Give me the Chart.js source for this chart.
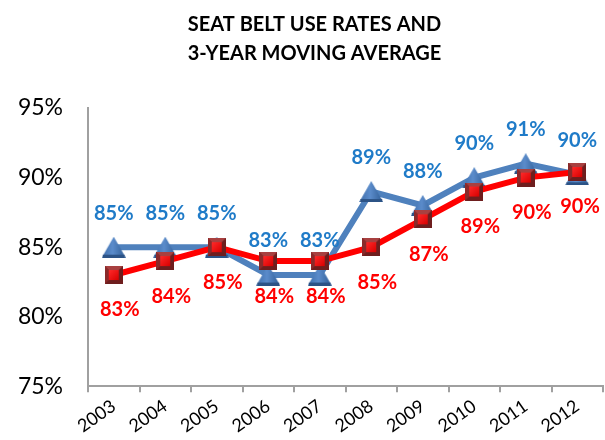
<!DOCTYPE html>
<html>
<head>
<meta charset="utf-8">
<script src="https://cdn.jsdelivr.net/npm/chart.js@4"></script>
<style>
  html, body { margin: 0; padding: 0; background: #fff; overflow: hidden; width: 605px; height: 440px; }
  #wrap { width: 613px; height: 440px; }
</style>
</head>
<body>
<div id="wrap"><canvas id="chart"></canvas></div>
<script>
// Years and rates
const years = ['2003', '2004', '2005', '2006', '2007', '2008', '2009', '2010', '2011', '2012'];
const useRates = [85, 85, 85, 83, 83, 89, 88, 90, 91, 90.2];
const movingAvg = [83, 84, 85, 84, 84, 85, 87, 89, 90, 90.4];
const yTicks = [75, 80, 85, 90, 95];

const BLUE = '#4F81BD';
const BLUE_TEXT = '#1F7BC8';
const RED = '#FF0000';

// Bevelled marker images
function makeTriangle() {
    const c = document.createElement('canvas');
    c.width = 24; c.height = 21;
    const g = c.getContext('2d');
    g.beginPath();
    g.moveTo(12, 0); g.lineTo(24, 21); g.lineTo(0, 21); g.closePath();
    const grad = g.createLinearGradient(0, 0, 24, 0);
    grad.addColorStop(0, '#3E6DAA');
    grad.addColorStop(0.45, '#5B8CCB');
    grad.addColorStop(1, '#2F5C94');
    g.fillStyle = grad;
    g.fill();
    // darker base strip
    g.fillStyle = '#2C5386';
    g.fillRect(1, 18, 22, 3);
    return c;
}

function makeSquare() {
    const c = document.createElement('canvas');
    c.width = 18; c.height = 18;
    const g = c.getContext('2d');
    g.fillStyle = '#6E1E1E';
    g.fillRect(0, 0, 18, 18);
    g.fillStyle = '#A84040';
    g.beginPath(); g.moveTo(0, 0); g.lineTo(18, 0); g.lineTo(14, 4); g.lineTo(4, 4); g.closePath(); g.fill();
    g.fillStyle = '#8A2A2A';
    g.beginPath(); g.moveTo(0, 0); g.lineTo(4, 4); g.lineTo(4, 14); g.lineTo(0, 18); g.closePath(); g.fill();
    const grad = g.createLinearGradient(4, 4, 14, 14);
    grad.addColorStop(0, '#FF2A2A');
    grad.addColorStop(1, '#D80000');
    g.fillStyle = grad;
    g.fillRect(4, 4, 10, 10);
    return c;
}

// Value labels: blue above the points, red below
const valueLabels = {
    id: 'valueLabels',
    afterDatasetsDraw(chart) {
        const ctx = chart.ctx;
        ctx.save();
        ctx.font = 'bold 20px Lato';
        ctx.textAlign = 'center';
        ctx.textBaseline = 'middle';
        chart.data.datasets.forEach((ds, i) => {
            const meta = chart.getDatasetMeta(i);
            ctx.fillStyle = ds.labelColor;
            meta.data.forEach((pt, j) => {
                const text = Math.round(ds.data[j]) + '%';
                let x = pt.x + ds.labelDx;
                x = Math.min(x, chart.chartArea.right - 23);
                ctx.fillText(text, x, pt.y + ds.labelDy);
            });
        });
        ctx.restore();
    }
};

// Nudge the title a little to the right
const titleShift = {
    id: 'titleShift',
    afterLayout(chart) {
        if (chart.titleBlock) chart.titleBlock.left += 16;
    }
};

let chart = new Chart(document.getElementById('chart'), {
    type: 'line',
    data: {
        labels: years,
        datasets: [
            {
                label: 'Seat belt use rate',
                data: useRates,
                borderColor: BLUE,
                backgroundColor: BLUE,
                borderWidth: 6,
                pointStyle: makeTriangle(),
                tension: 0,
                order: 2,
                labelColor: BLUE_TEXT,
                labelDx: 0,
                labelDy: -34
            },
            {
                label: '3-year moving average',
                data: movingAvg,
                borderColor: RED,
                backgroundColor: RED,
                borderWidth: 6,
                pointStyle: makeSquare(),
                tension: 0,
                order: 1,
                labelColor: RED,
                labelDx: 6,
                labelDy: 35
            }
        ]
    },
    options: {
        responsive: true,
        maintainAspectRatio: false,
        animation: false,
        layout: { padding: { left: 0, right: 0, top: 4, bottom: 0 } },
        plugins: {
            legend: { display: false },
            tooltip: { enabled: false },
            title: {
                display: true,
                text: ['SEAT BELT USE RATES AND', '3-YEAR MOVING AVERAGE'],
                color: '#000',
                font: { family: 'Lato', size: 20, weight: 'bold', lineHeight: 1.45 },
                padding: { top: 6, bottom: 40 }
            }
        },
        scales: {
            x: {
                offset: true,
                grid: { display: true, drawOnChartArea: false, offset: true, tickLength: 6, color: '#A0A0A0', lineWidth: 2 },
                border: { color: '#A0A0A0', width: 2 },
                ticks: { color: '#000', font: { family: 'Lato', size: 18 }, minRotation: 35, maxRotation: 35, padding: 3 }
            },
            y: {
                min: 75,
                max: 95,
                afterBuildTicks: (axis) => { axis.ticks = yTicks.map(v => ({ value: v })); },
                afterFit: (axis) => { axis.width = 88; },
                grid: { display: false },
                border: { color: '#A0A0A0', width: 2 },
                ticks: { color: '#000', font: { family: 'Lato', size: 23 }, padding: 17, callback: v => v + '%' }
            }
        }
    },
    plugins: [valueLabels, titleShift]
});
</script>
</body>
</html>
